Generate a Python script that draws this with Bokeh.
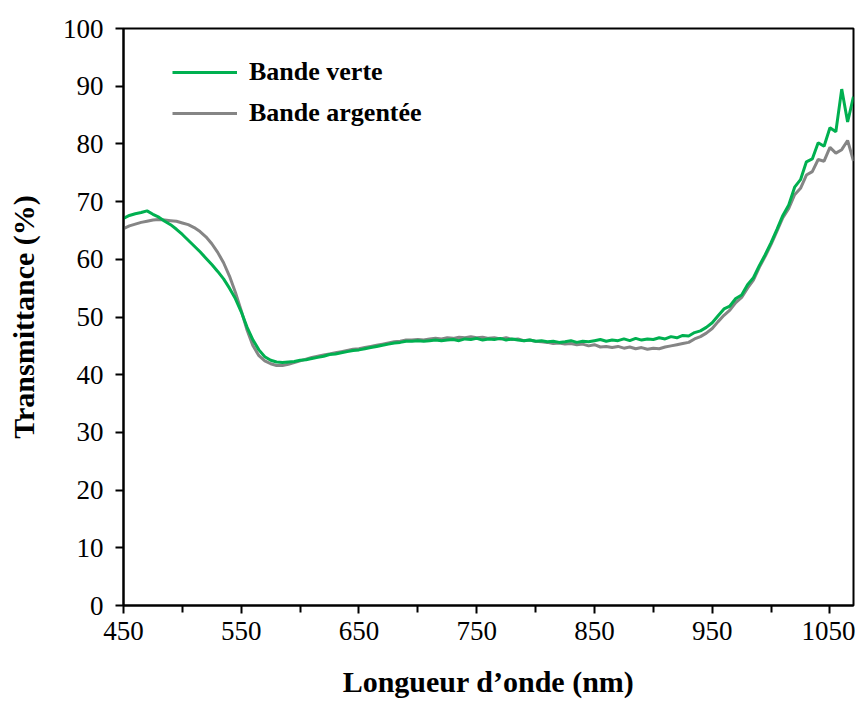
from bokeh.plotting import figure
from bokeh.models import FixedTicker, Legend, LegendItem, Range1d
from bokeh.embed import file_html
from bokeh.resources import INLINE

wavelength = list(range(450, 1071, 5))

bande_verte = [
    67.1, 67.6, 67.9, 68.1, 68.4, 67.8, 67.3, 66.6, 66.0, 65.2,
    64.3, 63.3, 62.3, 61.3, 60.2, 59.1, 57.9, 56.6, 55.0, 53.2,
    50.9, 48.2, 46.0, 44.3, 43.1, 42.5, 42.2, 42.1, 42.2, 42.3,
    42.5, 42.6, 42.8, 43.0, 43.2, 43.5, 43.6, 43.8, 44.0, 44.2,
    44.3, 44.5, 44.7, 44.9, 45.1, 45.3, 45.5, 45.6, 45.8, 45.8,
    45.9, 45.8, 45.9, 46.0, 45.9, 46.0, 46.1, 45.9, 46.2, 46.1,
    46.3, 46.0, 46.2, 46.1, 46.3, 46.0, 46.2, 46.0, 45.9, 46.0,
    45.8, 45.9, 45.7, 45.8, 45.6, 45.7, 45.9, 45.6, 45.8, 45.7,
    45.9, 46.1, 45.8, 46.0, 45.9, 46.2, 45.9, 46.3, 46.0, 46.2,
    46.1, 46.4, 46.2, 46.6, 46.4, 46.8, 46.7, 47.3, 47.6, 48.2,
    49.0, 50.2, 51.4, 51.9, 53.2, 53.8, 55.6, 56.8, 58.9, 60.8,
    62.9, 65.2, 67.6, 69.4, 72.5, 73.8, 76.9, 77.4, 80.2, 79.6,
    82.8, 82.1, 89.5, 83.8, 88.2,
]

bande_argentee = [
    65.3, 65.8, 66.1, 66.4, 66.6, 66.8, 66.9, 66.8, 66.7, 66.6,
    66.3, 66.0, 65.5, 64.8, 63.9, 62.7, 61.2, 59.4, 57.1, 54.3,
    51.1, 47.7, 45.0, 43.3, 42.4, 41.9, 41.6, 41.6, 41.8, 42.1,
    42.4, 42.7, 43.0, 43.2, 43.4, 43.6, 43.8, 44.0, 44.2, 44.4,
    44.5, 44.7, 44.9, 45.1, 45.3, 45.5, 45.7, 45.8, 46.0, 46.0,
    46.1, 46.0, 46.2, 46.3, 46.2, 46.4, 46.3, 46.5, 46.4, 46.6,
    46.4, 46.5, 46.3, 46.4, 46.2, 46.4, 46.1, 46.2, 45.9, 46.0,
    45.8, 45.7, 45.6, 45.4, 45.5, 45.3, 45.4, 45.2, 45.3, 45.0,
    45.2, 44.8, 44.9, 44.7, 44.9, 44.6, 44.8, 44.5, 44.7, 44.4,
    44.6, 44.5, 44.8, 45.0, 45.2, 45.4, 45.6, 46.2, 46.6, 47.2,
    48.0, 49.2, 50.3, 51.2, 52.5, 53.4, 55.0, 56.4, 58.6, 60.5,
    62.6, 64.9, 67.2, 68.8, 71.2, 72.3, 74.6, 75.2, 77.3, 77.0,
    79.4, 78.4, 79.0, 80.6, 77.0,
]

x_major = [450, 550, 650, 750, 850, 950, 1050]
x_minor = [500, 600, 700, 800, 900, 1000]
y_major = [0, 10, 20, 30, 40, 50, 60, 70, 80, 90, 100]

FONT = "'Liberation Serif', 'Times New Roman', serif"

p = figure(
    width=855, height=706,
    output_backend="svg", toolbar_location=None,
    x_range=Range1d(450, 1070), y_range=Range1d(0, 100),
    min_border_left=123, min_border_right=2,
    min_border_top=28, min_border_bottom=101,
)
p.grid.visible = False
p.outline_line_color = "black"
p.outline_line_width = 2

r_gray = p.line(wavelength, bande_argentee, line_color="#858585", line_width=3)
r_green = p.line(wavelength, bande_verte, line_color="#00B050", line_width=3)

for ax in (p.xaxis[0], p.yaxis[0]):
    ax.axis_line_width = 2
    ax.axis_line_color = "black"
    ax.major_tick_line_width = 2
    ax.minor_tick_line_width = 2
    ax.major_tick_in = 0
    ax.minor_tick_in = 0
    ax.major_tick_out = 8
    ax.minor_tick_out = 7
    ax.major_label_text_font = FONT
    ax.major_label_text_font_size = "27px"
    ax.major_label_text_color = "black"
    ax.axis_label_text_font = FONT
    ax.axis_label_text_font_size = "30px"
    ax.axis_label_text_font_style = "bold"
    ax.axis_label_text_color = "black"

p.xaxis[0].ticker = FixedTicker(ticks=x_major, minor_ticks=x_minor)
p.yaxis[0].ticker = FixedTicker(ticks=y_major, minor_ticks=[])
p.xaxis[0].major_label_standoff = 8
p.yaxis[0].major_label_standoff = 12
p.xaxis[0].axis_label = "Longueur d\u2019onde (nm)"
p.yaxis[0].axis_label = "Transmittance (%)"
p.xaxis[0].axis_label_standoff = 22
p.yaxis[0].axis_label_standoff = 20

legend = Legend(
    items=[
        LegendItem(label="Bande verte", renderers=[r_green]),
        LegendItem(label="Bande argent\u00e9e", renderers=[r_gray]),
    ],
    location=(49, 477),
    glyph_width=65, glyph_height=28, label_height=28,
    label_standoff=12, spacing=11, padding=0, margin=0,
    label_text_font=FONT, label_text_font_size="26px",
    label_text_font_style="bold", label_text_color="black",
    border_line_alpha=0, background_fill_alpha=0,
)
p.add_layout(legend)

open("out.html", "w").write(file_html(p, INLINE))
